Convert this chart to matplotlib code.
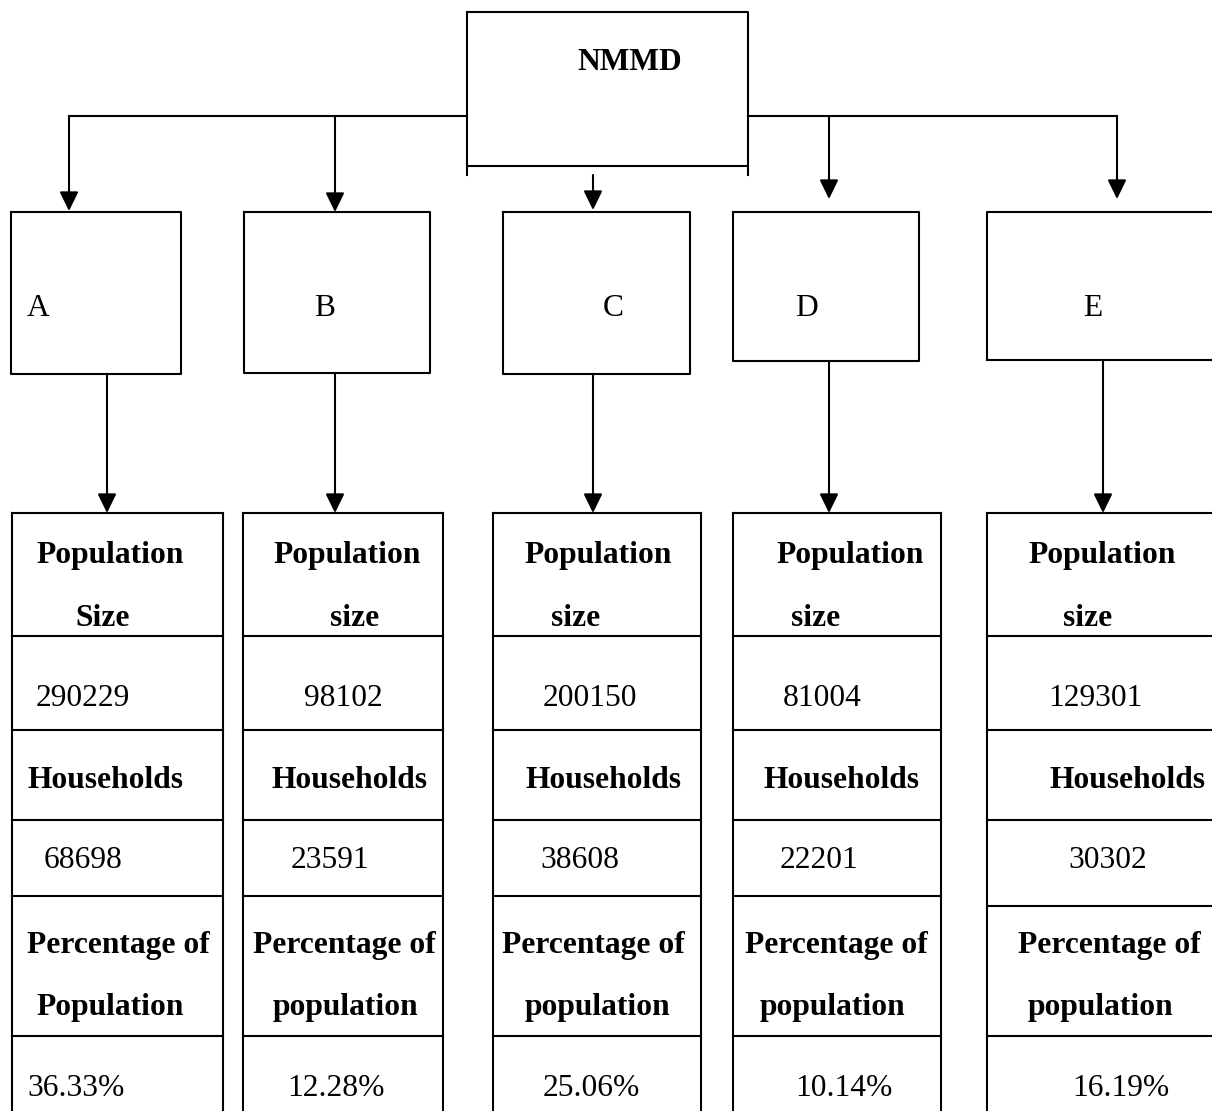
import numpy as np
import matplotlib.pyplot as plt

# data
districts = ['A', 'B', 'C', 'D', 'E']
pop_size = [290229, 98102, 200150, 81004, 129301]
households = [68698, 23591, 38608, 22201, 30302]
pct_pop = [36.33, 12.28, 25.06, 10.14, 16.19]
size_hdr = ['Population\nSize', 'Population\nsize', 'Population\nsize',
            'Population\nsize', 'Population\nsize']
pct_hdr = ['Percentage of\nPopulation', 'Percentage of\npopulation',
           'Percentage of\npopulation', 'Percentage of\npopulation',
           'Percentage of\npopulation']

# layout (pixels, y down)
W, H = 1212, 1111
box_x = [(11, 181), (244, 430), (503, 690), (733, 919), (987, 1212)]
box_bot = [374, 373, 374, 361, 360]
box_top = 212
letter_x = [38, 325, 613, 807, 1093]
arrow_in_x = [69, 335, 593, 829, 1117]
arrow_in_tip = [211, 212, 210, 199, 199]
down_x = [107, 335, 593, 829, 1103]
tab_x = [(12, 223), (243, 443), (493, 701), (733, 941), (987, 1212)]
tab_top = 513
row_lines = [636, 730, 820, 896, 1036]
row_lines_e = [636, 730, 820, 906, 1036]
# text left edges per column: hdr1 line1, hdr1 line2, pop, hdr2, hh, hdr3 line1, hdr3 line2, pct
txt_x = [[36, 75, 36, 27, 44, 27, 36, 27],
         [273, 330, 304, 271, 291, 253, 273, 287],
         [524, 551, 543, 526, 540, 502, 525, 543],
         [776, 791, 783, 763, 780, 745, 760, 795],
         [1028, 1063, 1048, 1050, 1068, 1018, 1028, 1072]]
txt_y = [555, 618, 699, 780, 861, 945, 1007, 1088]

LW = 1.5
FS = 22.7
FONT = 'Liberation Serif'

fig = plt.figure(figsize=(W / 100, H / 100), dpi=100)
ax = fig.add_axes([0, 0, 1, 1])
ax.set_xlim(0, W)
ax.set_ylim(H, 0)
ax.axis('off')


def seg(x, y):
    ax.plot(x, y, color='black', lw=LW, solid_capstyle='projecting')


def arrow(x, y0, y1):
    ax.annotate('', xy=(x, y1), xytext=(x, y0),
                arrowprops=dict(arrowstyle='-|>,head_length=0.45,head_width=0.22',
                                mutation_scale=26, lw=LW, color='black',
                                shrinkA=0, shrinkB=0))


# NMMD box
seg([467, 748, 748, 467, 467], [12, 12, 166, 166, 12])
seg([467, 467], [166, 175])
seg([748, 748], [166, 175])
ax.text(630, 62, 'NMMD', fontsize=FS, fontweight='bold', family=FONT,
        ha='center', va='center')

# connectors
seg([arrow_in_x[0], 467], [116, 116])
seg([748, arrow_in_x[4]], [116, 116])
for i in range(5):
    if i == 2:
        arrow(arrow_in_x[i], 175, arrow_in_tip[i])
    else:
        arrow(arrow_in_x[i], 116, arrow_in_tip[i])

# district boxes
for i, d in enumerate(districts):
    x0, x1 = box_x[i]
    yb = box_bot[i]
    if i == 4:
        seg([x1 + 5, x0, x0], [box_top, box_top, yb])
        seg([x0, x1 + 5], [yb, yb])
    else:
        seg([x0, x1, x1, x0, x0], [box_top, box_top, yb, yb, box_top])
    ax.text(letter_x[i], 309, d, fontsize=FS, family=FONT,
            ha='center', va='center')
    arrow(down_x[i], yb, tab_top)

# tables
for i in range(5):
    x0, x1 = tab_x[i]
    seg([x0, x0], [H + 5, tab_top])
    seg([x0, x1], [tab_top, tab_top])
    if i != 4:
        seg([x1, x1], [tab_top, H + 5])
    lines = row_lines_e if i == 4 else row_lines
    for y in lines:
        seg([x0, x1], [y, y])

    h1a, h1b = size_hdr[i].split('\n')
    h3a, h3b = pct_hdr[i].split('\n')
    cells = [(h1a, 'bold'), (h1b, 'bold'), (str(pop_size[i]), 'normal'),
             ('Households', 'bold'), (str(households[i]), 'normal'),
             (h3a, 'bold'), (h3b, 'bold'), ('%.2f%%' % pct_pop[i], 'normal')]
    for k, (s, w) in enumerate(cells):
        ax.text(txt_x[i][k], txt_y[k], s, fontsize=FS, fontweight=w,
                family=FONT, ha='left', va='center')

fig.savefig('out.png', dpi=100)
